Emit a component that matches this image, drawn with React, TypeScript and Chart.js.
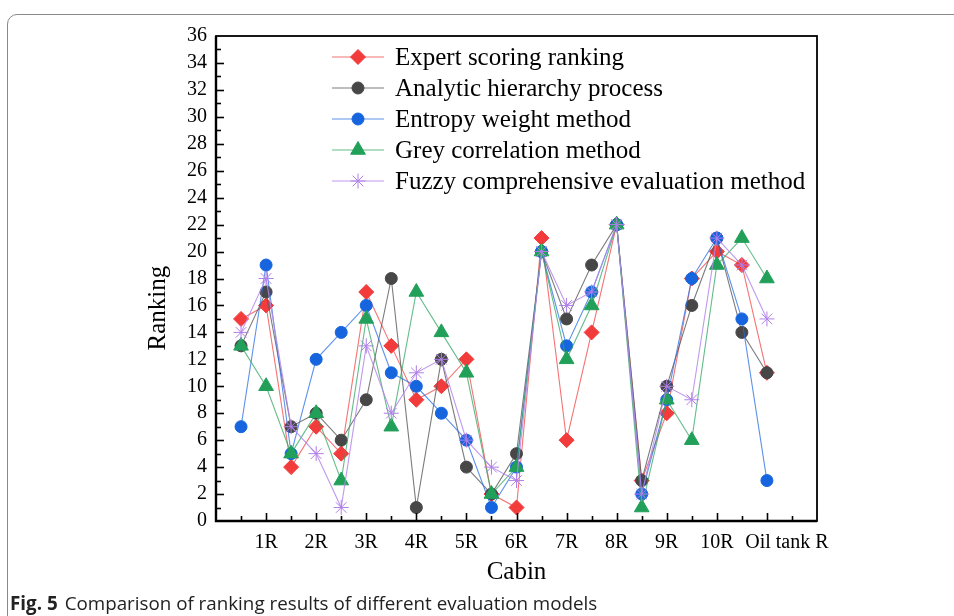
import React, { useEffect, useRef } from 'react';
import { Chart, registerables } from 'chart.js';
import { drawPoint } from 'chart.js/helpers';

Chart.register(...registerables);

// Cabin slots 1..22 on the x axis (L/R pairs); only the R cabins are labelled
const cabinSlots = [1, 2, 3, 4, 5, 6, 7, 8, 9, 10, 11, 12, 13, 14, 15, 16, 17, 18, 19, 20, 21, 22];
const tickPositions = [2, 4, 6, 8, 10, 12, 14, 16, 18, 20, 22];
const tickLabels = ['1R', '2R', '3R', '4R', '5R', '6R', '7R', '8R', '9R', '10R', 'Oil tank R'];

const expertScoring = [15, 16, 4, 7, 5, 17, 13, 9, 10, 12, 2, 1, 21, 6, 14, 22, 3, 8, 18, 20, 19, 11];
const analyticHierarchy = [13, 17, 7, 8, 6, 9, 18, 1, 12, 4, 2, 5, 20, 15, 19, 22, 3, 10, 16, 21, 14, 11];
const entropyWeight = [7, 19, 5, 12, 14, 16, 11, 10, 8, 6, 1, 4, 20, 13, 17, 22, 2, 9, 18, 21, 15, 3];
const greyCorrelation = [13, 10, 5, 8, 3, 15, 7, 17, 14, 11, 2, 4, 20, 12, 16, 22, 1, 9, 6, 19, 21, 18];
const fuzzyEvaluation = [14, 18, 7, 5, 1, 13, 8, 11, 12, 6, 4, 3, 20, 16, 17, 22, 2, 10, 9, 21, 19, 15];

const seriesNames = [
  'Expert scoring ranking',
  'Analytic hierarchy process',
  'Entropy weight method',
  'Grey correlation method',
  'Fuzzy comprehensive evaluation method',
];

const yTitle = 'Ranking';
const xTitle = 'Cabin';

const SERIF = "'Liberation Serif', 'Times New Roman', serif";

const seriesDefs = [
  { name: seriesNames[0], values: expertScoring, color: '#F23B3B', line: 'rgba(242,70,70,0.75)', style: 'rectRot', radius: 7.5, order: 5 },
  { name: seriesNames[1], values: analyticHierarchy, color: '#474747', line: 'rgba(90,90,90,0.8)', style: 'circle', radius: 6, order: 4 },
  { name: seriesNames[2], values: entropyWeight, color: '#1665DE', line: 'rgba(40,110,225,0.75)', style: 'circle', radius: 6, order: 3 },
  { name: seriesNames[3], values: greyCorrelation, color: '#22A05A', line: 'rgba(50,165,100,0.75)', style: 'triangle', radius: 8.5, order: 2 },
  { name: seriesNames[4], values: fuzzyEvaluation, color: '#B07FE8', line: 'rgba(180,135,235,0.85)', style: 'star', radius: 7.5, order: 1 },
];

const framePlugin = {
  id: 'frameTicks',
  afterDatasetsDraw(chart: any) {
    const { ctx, chartArea, scales } = chart;
    const { left, top, right, bottom } = chartArea;
    const x = scales.x;
    const y = scales.y;
    ctx.save();
    ctx.strokeStyle = '#000';
    ctx.lineWidth = 1.6;
    for (let v = 1; v < 24; v++) {
      const px = Math.round(x.getPixelForValue(v)) + 0.5;
      const len = v % 2 === 0 ? 8 : 5;
      ctx.beginPath();
      ctx.moveTo(px, bottom);
      ctx.lineTo(px, bottom - len);
      ctx.stroke();
    }
    for (let v = 1; v < 36; v++) {
      const py = Math.round(y.getPixelForValue(v)) + 0.5;
      const len = v % 2 === 0 ? 8 : 5;
      ctx.beginPath();
      ctx.moveTo(left, py);
      ctx.lineTo(left + len, py);
      ctx.stroke();
    }
    ctx.lineWidth = 1.8;
    ctx.strokeRect(left, top, right - left, bottom - top);
    ctx.lineWidth = 2.4;
    ctx.beginPath();
    ctx.moveTo(left, top);
    ctx.lineTo(left, bottom);
    ctx.lineTo(right, bottom);
    ctx.stroke();

    // y-axis title, placed as in the original figure (slightly below centre)
    ctx.save();
    ctx.translate(left - 58, y.getPixelForValue(15.8));
    ctx.rotate(-Math.PI / 2);
    ctx.fillStyle = '#000';
    ctx.font = `25px ${SERIF}`;
    ctx.textAlign = 'center';
    ctx.textBaseline = 'middle';
    ctx.fillText(yTitle, 0, 0);
    ctx.restore();
    ctx.restore();
  },
};

const legendPlugin = {
  id: 'lineMarkerLegend',
  afterDraw(chart: any) {
    const { ctx, chartArea } = chart;
    const x0 = chartArea.left + 116;
    const y0 = chartArea.top + 21;
    const rowH = 31;
    ctx.save();
    seriesDefs.forEach((s, i) => {
      const cy = y0 + i * rowH;
      ctx.strokeStyle = s.line;
      ctx.lineWidth = 1.2;
      ctx.beginPath();
      ctx.moveTo(x0, cy);
      ctx.lineTo(x0 + 52, cy);
      ctx.stroke();
      ctx.fillStyle = s.color;
      ctx.strokeStyle = s.color;
      ctx.lineWidth = 1;
      drawPoint(ctx, { pointStyle: s.style as any, radius: s.radius, rotation: 0, borderWidth: 1 } as any, x0 + 26, cy);
      ctx.fillStyle = '#000';
      ctx.font = `25px ${SERIF}`;
      ctx.textBaseline = 'middle';
      ctx.textAlign = 'left';
      ctx.fillText(s.name, x0 + 63, cy + 1);
    });
    ctx.restore();
  },
};

export default function App() {
  const ref = useRef<HTMLCanvasElement>(null);

  useEffect(() => {
    document.body.style.overflow = 'hidden';
    const labelAt: Record<number, string> = {};
    tickPositions.forEach((p, i) => (labelAt[p] = tickLabels[i]));
    // the last (long) label sits shifted to the right of its tick, as in the original figure
    labelAt[22] = '\u2002\u2002\u2002\u2002' + labelAt[22];

    const chart = new Chart(ref.current!, {
      type: 'line',
      data: {
        datasets: seriesDefs.map((s) => ({
          label: s.name,
          data: cabinSlots.map((slot, i) => ({ x: slot, y: s.values[i] })),
          borderColor: s.line,
          borderWidth: 1.1,
          backgroundColor: s.color,
          pointBackgroundColor: s.color,
          pointBorderColor: s.color,
          pointBorderWidth: 1,
          pointStyle: s.style as any,
          pointRadius: s.radius,
          pointHoverRadius: s.radius,
          tension: 0,
          fill: false,
          order: s.order,
        })),
      },
      options: {
        responsive: false,
        animation: false,
        events: [],
        layout: { padding: { left: 140, top: 36, right: 137, bottom: 0 } },
        plugins: { legend: { display: false }, tooltip: { enabled: false } },
        scales: {
          x: {
            type: 'linear',
            min: 0,
            max: 24,
            grid: { display: false, drawTicks: false },
            border: { display: false },
            afterFit: (s: any) => {
              s.height = 70;
            },
            ticks: {
              stepSize: 1,
              autoSkip: false,
              maxTicksLimit: 100,
              maxRotation: 0,
              minRotation: 0,
              padding: 10,
              color: '#000',
              font: { family: SERIF, size: 20 },
              callback: (v: any) => labelAt[Number(v)] ?? '',
            },
            title: {
              display: true,
              text: xTitle,
              color: '#000',
              font: { family: SERIF, size: 25 },
              padding: { top: 0, bottom: 4 },
            },
          },
          y: {
            min: 0,
            max: 36,
            grid: { display: false, drawTicks: false },
            border: { display: false },
            afterFit: (s: any) => {
              s.width = 76;
            },
            ticks: {
              stepSize: 2,
              autoSkip: false,
              maxTicksLimit: 100,
              padding: 9,
              color: '#000',
              font: { family: SERIF, size: 20 },
            },
          },
        },
      },
      plugins: [framePlugin, legendPlugin],
    });
    return () => chart.destroy();
  }, []);

  return (
    <div>
      <div
        style={{
          position: 'fixed',
          left: 7,
          top: 14,
          width: 1000,
          height: 700,
          border: '1px solid #8a8a8a',
          borderRadius: 10,
          boxSizing: 'border-box',
        }}
      />
      <canvas ref={ref} width={954} height={591} style={{ position: 'fixed', left: 0, top: 0 }} />
      <div
        style={{
          position: 'fixed',
          left: 10,
          top: 591,
          fontFamily: "'Open Sans', 'Noto Sans', sans-serif",
          fontSize: 18.8,
          lineHeight: '24px',
          color: '#222',
          whiteSpace: 'nowrap',
        }}
      >
        <b>Fig. 5</b>
        <span style={{ marginLeft: 7 }}>Comparison of ranking results of different evaluation models</span>
      </div>
    </div>
  );
}
